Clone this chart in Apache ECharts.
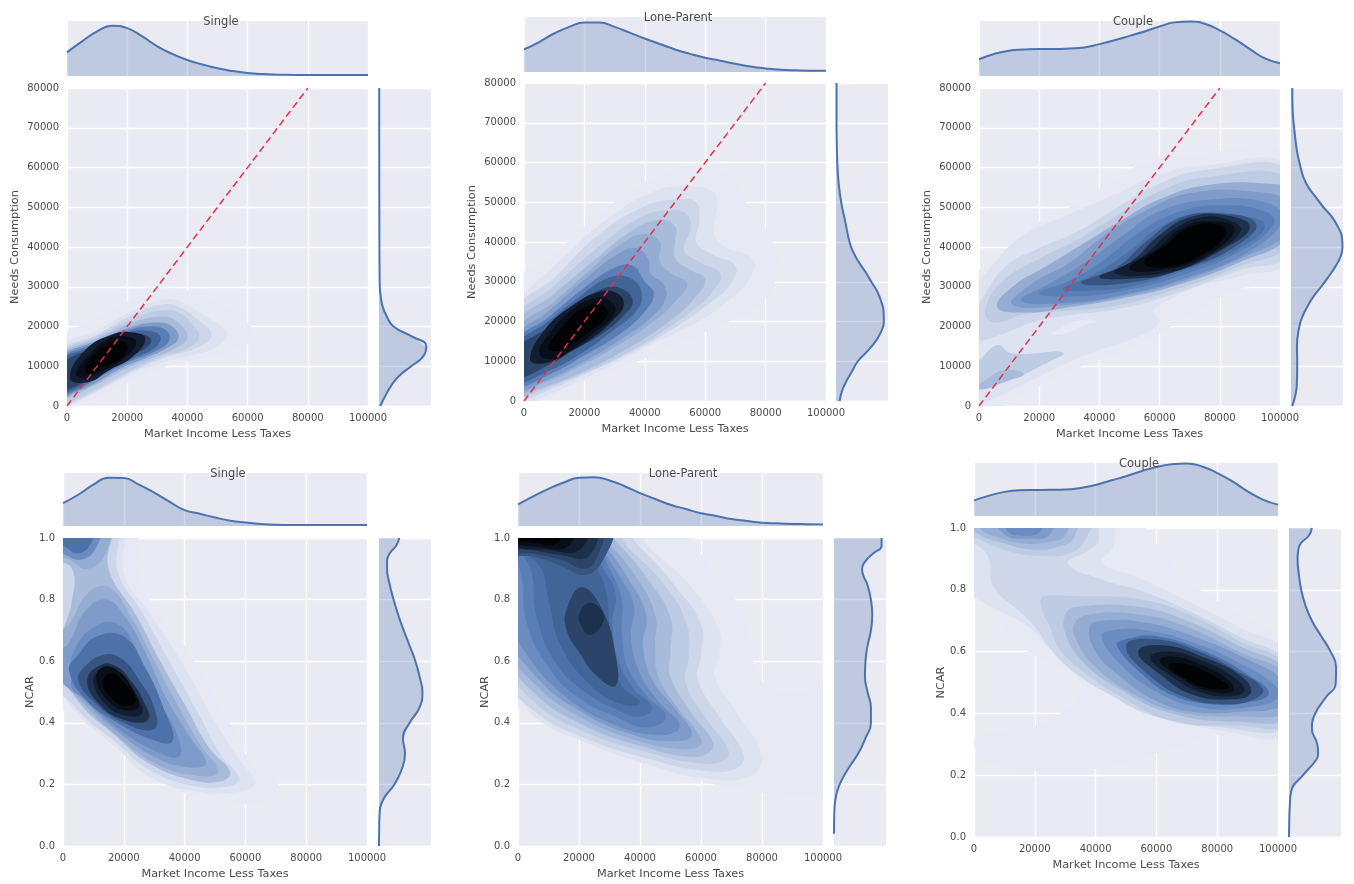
<!DOCTYPE html>
<html><head><meta charset="utf-8">
<style>html,body{margin:0;padding:0;background:#fff}#c{width:1354px;height:884px}</style>
<script src="https://cdn.jsdelivr.net/npm/echarts@6/dist/echarts.min.js"></script>
</head><body><div id="c"></div>
<script>
// ---- tick labels / axes
const incomeTicks = [0,20000,40000,60000,80000,100000];
const identityLine = [[0,0],[80000,80000]];
const titles = ['Single','Lone-Parent','Couple','Single','Lone-Parent','Couple'];
const xName = 'Market Income Less Taxes';
// ---- level colours, light to black
const palette = ['#e7eaf4','#dde3f0','#ced7ea','#bdcbe3','#a9bbdb','#95acd3','#7f9bc9','#6b8cc0','#5a7fb6','#4c72a9','#426597','#375580','#2b4467','#1e314c','#121e30','#090f19','#020305'];
// ---- top marginals: x every 5000, density as % of the strip height
const topX = [0,5000,10000,15000,20000,25000,30000,35000,40000,45000,50000,55000,60000,65000,70000,75000,80000,85000,90000,95000,100000];
const topA = [43,63,81,91.5,87,72,54,40,29,21,14,9,5.5,3.5,2.5,2,1.8,1.8,1.8,1.8,1.8];
const topB = [41,54.5,70,82,90,90,82,71.5,61,51,41,33,26,20.5,15,10,6.5,4,3,2.5,2.5];
const topC = [30.5,40,46,48,49,49,50,52,58,65,73,81,90,97.5,99,95,83,67,49,32,23];
const topD = [43,59,78,91,90.5,78,63,46,30,23,16,10,6.5,4,2.5,2,2,2,2,2,2];
const topE = [41,56,70,82,91,92,86,75,62,51,40,32,24,19,13,9.5,6.3,5,4,3.5,3];
const topF = [29.5,38.5,45.5,48.5,49,49.5,50,53,58.5,67,75,84.5,92.5,97.5,99,93.5,81,65.5,46.5,31,21.5];
// ---- right marginals: density % of strip width against y
const rightAY = [0,2500,5000,7500,10000,12500,15000,17500,20000,22500,25000,27500,30000,35000,40000,50000,60000,70000,80000];
const rightA  = [2.5,12,23,38,62,85,91,63,28,15,7,3.5,1.5,1,.8,.6,.5,.4,.4];
const rightBY = [0,2500,5000,7500,10000,12500,15000,17500,20000,22500,25000,27500,30000,32500,35000,37500,40000,45000,50000,55000,60000,65000,70000,80000];
const rightB  = [7,11.5,20,31,42,60,76,87,92,91.5,87,79.5,68,56.5,43.5,33,26,18,10,5,2.5,1.5,1,1];
const rightCY = [0,2500,5000,10000,15000,20000,22500,25000,27500,30000,32500,35000,37500,40000,42500,45000,47500,50000,52500,55000,57500,60000,62500,65000,70000,75000,80000];
const rightC  = [2.5,8,11,12,11.5,16,22,31.5,43,58,72,85,95,99,98,90.5,79,62.5,48,33.5,24,18.5,14,10.5,6,3,2.5];
const rightNY = [0,.05,.1,.15,.2,.25,.3,.35,.4,.45,.5,.55,.6,.65,.7,.75,.8,.85,.9,.925,.95,.975,1];
const rightD  = [0,.3,1,8,29.5,44,50,46,59,78,83.5,78,70,59,47.5,37,28,20.5,15.5,15.5,20.5,33,39];
const rightEY = [.04,.1,.15,.2,.25,.3,.35,.4,.45,.5,.55,.6,.65,.7,.75,.8,.85,.875,.9,.925,.95,.975,1];
const rightE  = [0,.5,2.5,11,27,46.5,60.5,71,71,64.5,59.5,60.5,64.5,71,73.5,71,64,57,54,60.5,75.5,91.5,91.5];
const rightFY = [0,.05,.1,.15,.2,.25,.27,.3,.35,.4,.45,.5,.55,.6,.65,.7,.75,.8,.85,.9,.925,.95,.975,1];
const rightF  = [0,.5,1.5,4.5,27,52.5,56,54.5,44,50.5,70,90,90.5,80,62,44,31.5,23.5,19,16.5,17.5,22.5,38,44];
// ---- filled contours, outer to inner: [x(thousands), y, x, y ...]
const contoursA = [
[-3,2,-3,16,10,22,25,28,35,29.5,48,27,58,22,62,18,56,14,45,12,33,10,15,4,5,1],
[-3,14,10,19,22,24,30,26.5,37,26.5,45,23,53,18.5,50,15,40,12.5,30,10.5,20,7.5,10,3.5,2,.5,-3,-1],
[-3,13,10,18,22,23,31,25.5,37,25,43,22,48,18,44,15,34,12.5,24,9.5,14,5.5,5,2,-3,0],
[-3,12.5,10,17.5,22,22,31,24,37,23.5,41,21,44,17.5,40,14.5,32,12.5,24,10,14,6,5,2.5,-3,.5],
[-3,12,10,17,22,21,31,22.5,36,21.5,40,17.5,36,14.5,28,12,20,9.5,10,5.5,3,3,-3,1.5],
[-3,11.5,10,16.5,22,20,30,21,35,20,37,17,33,14.5,26,12,18,9.5,10,6,3,3.5,-3,2],
[-3,11,10,16,20,19,28,20,33,19,34,16.5,30,14,22,11.5,15,9,8,6,2,3.5,-3,2.5],
[-3,10.5,8,15,18,18,26,19,31,17.5,29,14.5,22,12,15,9.5,8,6.5,2,4,-3,3],
[-3,9.5,8,14.5,18,17.5,25,18,28,16.5,25,14,18,11.5,10,8,3,5,-3,4],
[1,7,6,14,15,18,22,18.5,26,17,22,12.5,14,9,7,6],
[3,8,7,12.5,14,17,20,17.5,23,16,19,12,11,8.5,6,7],
[6,9,9,13,15,16,20,15.5,18,12,11,9.5,8,8],
[8,10,12,14,18,15,18.5,13.5,13,10.5]];
const levelsA = [0,1,2,3,4,6,8,10,12,14,15,16,16];
const contoursB = [
[-3,3,-3,29,10,37,25,47,40,55,55,59,68,57,75,48,81,42,84,33,78,24,65,19,50,14,38,10,20,5,5,0,-3,-2],
[-3,25,0,27,10,34,27,45.5,43,52.7,54,54,62,53,64,50,63,42,66,39,76,35.5,74,30,68,25.5,60,21,43,14.5,21,6,0,-1,-3,-2],
[-3,22,10,31,25,42,40,49,50,50.7,57,50,58,45,57,40,62,37,70,34,68,29,63,25.5,50,18.5,35,12,18,6,0,0,-3,-1],
[-3,20,10,29,25,39,38,46,47,48,54,47,55,43,53,38,58,35,65,32,62,27,57,23.5,45,17,30,10.5,15,5.5,0,1,-3,0],
[-3,18.5,10,27,25,36.5,35,42.5,44,45.5,50,44,50,40,50,36,55,33,60,30.5,56,25.5,48,20,35,13.5,20,7.5,5,3,-3,1],
[-3,17,10,25,22,33,32,39.5,40,42,45,40,45,35,49,32,54,29.5,50,25,42,19.5,30,13.5,18,8.5,5,4,-3,2],
[-3,15.5,8,22.5,20,30.5,30,36.5,37,38.5,41,36,42,32,46,29.5,47,26,42,21,32,15.5,20,10,8,5.5,-3,3],
[-3,14.5,8,21,20,28.5,30,33.5,36,34,40,30,43,27,40,22.5,32,17,20,11.5,8,6.5,-3,4],
[-3,13.5,8,20,18,26,28,31,35,31,39,27,37,22.5,30,18,20,12.5,8,7.5,-3,5],
[-3,12.5,8,18.5,18,24.5,27,28.5,33,28,36,25,33,21.5,26,17,17,13,8,9,-3,6],
[2,10.5,7,18,16,24,25,27.5,31,27,33,24,29,20,22,15.5,14,12,7,9.5],
[5,12,9,17.5,16,23,24,26,29,25,30,22,23,17,15,12.5,10,10.5],
[8,13.5,13,19,20,23.5,26,24,27.5,21.5,21,17,14,13.5,10,12.5],
[10,15,15,19.5,22,22.5,25.5,21.5,20,17,14,14.5]];
const levelsB = [0,1,2,3,4,5,6,8,10,12,14,15,16,16];
const contoursC = [
[-3,-2,-3,32,5,36,15,44,30,50,45,57,55,61,70,63,103,63,103,33,85,29,66,21,50,14,36,10.5,20,5,5,-1],
[-3,30,0,31.7,14,42.6,31,48.5,46,53.5,58,57.7,75,60.5,103,60,103,37,86,32.5,73,30,64,27,58,24,60,21,53,17.5,36,13,20,7.4,0,0,-3,-1],
[24,18,30,18.5,34,20,39,21.3,33,21.5,27,19.5],
[-3,11,0,11.6,6,15.3,11,13.2,28,13.4,20,9.9,15,8,7.5,5.7,0,4.4,-3,4],
[-3,4.5,0,5.5,8,9,15,8,8,6,2,4.3],
[-3,16,1,16.4,8.6,18.3,20,21.6,31,22.9,47,24.5,64,28,86,34,103,38.5,103,59,75,59.4,60,56,46,50,33,44,20,39.7,8.6,35,0,25.8,-3,23],
[2,24,8,31.5,20,37,33,42,46,48,60,54,75,57.5,103,57,103,41,86,35,64,29,47,25.5,31,24,15,23,5,21],
[6,25,12,30.5,22,35,35,41,48,47,60,52,75,55.5,95,56,103,54,103,43,86,36,64,30,47,27,31,25,15,23.5],
[11,25.5,18,31,30,36,42,43,55,49,70,53.5,90,54,103,51,103,44,88,37.5,66,31,47,27.5,30,25.5],
[14,26.5,24,31,36,36.5,48,43,60,49,78,52,96,51,101,47,90,39,68,32,48,28,30,26],
[20,28.5,30,31.5,42,37,52,43,65,48.5,80,50.5,95,49,98,46,88,39.5,68,33,48,29,30,27.5],
[28,29.5,38,33,50,39,60,45,72,48.5,86,48,95,45.5,86,39.5,68,34,50,30,36,29],
[34,31,46,35,55,41,66,47,78,48.5,92,46,85,40,68,34.5,50,31],
[40,32.5,50,36,60,43,70,47.5,82,48,90,45,80,39,64,33.5,50,32],
[45,33.5,55,38,64,44,74,47.5,84,46.5,87,44,78,38.5,62,33.5],
[50,34.5,60,40,68,45,78,46.5,85,44.5,77,38.5,63,34.5],
[55,36,63,41,70,45,80,45.5,82,43,74,38,63,35],
[60,37.5,66,42,72,44.5,79,43.5,76,39,66,36.5]];
const levelsC = [0,1,0,3,4,2,3,5,6,7,8,9,11,13,14,15,16,16];
const contoursD = [
[-3,105,22,105,26,85,42,62,56,38,62,27,72,18,65,14,50,15,38,18,22,28,10,38,0,44,-3,46],
[-3,52,0,48.5,6.7,41,17.6,32,28.5,22.5,45,17.5,60,18,63,21,58,28,49,42,39.5,59,28.5,75.5,20,88.5,19,105,-3,105],
[-3,56,5,44,17,34,28,25,43,19.5,55,19.5,58,22,52,29.5,44,44,35,60,26,76,18,89,17,105,-3,105],
[-3,62,5,47,17,36,28,27,42,21.5,52,21,55,24,48,32,40,46,32,60,24,75,15,90,15,105,-3,105,-3,94,3,90,3,80,0,70],
[-3,58,6,47,17,36.5,30,27,43,23,51,24,45,33,37,47,29,62,22,75,15,84,8,82,2,72,-3,68],
[-3,105,15,105,14,95,8,90,2,93,-3,95],
[-3,56,6,48,17,38,30,29,42,25.5,47,27,42,35,34,48,27,63,20,75,14,80,7,76,2,66,-3,62],
[-3,105,12,105,11,97,6,93,0,95,-3,97],
[3,51,6,48.5,17,39,30,31,38,29,38,35,30,50,24,64,18,72,10,71,3,62,3,56],
[0,105,10,105,9,98,5,95,1,97,-3,100],
[2,57,8,47,18,40,28,35,36,34,33,45,27,58,20,68,11,68,5,62],
[5,54,10,47,20,40,30,38,30,45,25,54,19,61,13,62,7,58],
[8,54,12,46,20,41,28,41,26,48,22,54,18,58,13,59],
[10,53,14,46,20,42.5,26,43,24,49,20,54,16,57,12,57],
[11,54,15,47,21,44,25,45.5,23,51,18,57,13,58],
[13,53,17,47,21,45.5,24,47,21,52,16,56]];
const levelsD = [0,1,2,4,5,5,6,7,7,9,9,11,13,14,15,16];
const contoursE = [
[-3,50,10,40,25,33,40,27,60,21,85,17,103,20,103,50,85,50,78,58,74,75,62,92,50,105,-3,105],
[-3,51,0,48.5,6.5,41,23,33.3,45,25.7,61,22,75.5,22.5,80,29,72,43,64.5,55,66,61.5,65.6,71,56,85,45,95,34,105,-3,105],
[-3,55,5,44,22,35,44,28,60,24.5,71,25,74,29.5,66,42,59,54,60,62,60,72,51,85,41,96,30,105,-3,105],
[-3,60,5,47,22,37,44,30,58,27,67,27.5,69,31,62,41,55,53,56,62,55,73,47,86,37,96,28,105,-3,105],
[-3,63,5,50,22,39,42,32,56,29,62,30,64,33.5,57,43,50,55,50,63,50,74,43,86,33,98,25,105,-3,105],
[-3,66,5,53,22,41,40,34,53,31.5,60,33,58,38,53,44,46,55,45,65,45,75,39,87,30,98,22,105,-3,105],
[-3,70,5,56,20,44,38,36,50,34,57,36,52,44,44,54,41,65,42,75,36,87,28,98,20,105,-3,105],
[-3,75,3,62,15,49,30,40,46,36,53,39,46,47,40,56,37,68,38,78,33,88,26,98,18,105,-3,105],
[-3,100,1,88,3,72,10,58,20,48,32,42,42,38.5,48.5,42,42,49,36,58,34,70,34,80,30,90,24,100,20,105,-3,105],
[-3,100,4,90,6,75,12,60,22,50,33,44,40,42,44,45,38,51,33,60,31,72,32,82,28,90,22,100,18,105,-3,105],
[-3,98,7,91,10,80,14,65,24,52,34,46,40,46.5,34,52,31,60,30,70,29,82,26,90,20,100,-3,105],
[-3,103,30,103,28,93,22,88,14,91,5,94,-3,95],
[16,77,21,84,28,76,32,62,32,52,26,55,20,63,16,70],
[20,75,23.5,79,28,75.5,27,71,23.5,68.5,21,71],
[-3,103,27,103,26,94,22,90,14,93,5,95,-3,96],
[-3,103,25,103,23,94,14,94.5,5,96,-3,97.5],
[-3,103,22,103,20,96,10,96,-3,98],
[-3,103,18,103,16,97,8,97,-3,99],
[-3,103,14,103,12,98,5,98.5,-3,100]];
const levelsE = [0,1,2,3,4,5,6,7,8,9,10,11,12,13,12,13,14,15,16];
const contoursF = [
[-3,105,50,105,60,95,70,83,100,65,103,60,103,33,80,33,70,30,60,27,40,22,25,21,5,24,0,30,3,33,25,38,35,50,15,62,5,75,-3,80],
[-3,80,0,77.7,8,73.3,18,68,24.4,61.5,32,56,43,48.5,59.5,40,81,34.5,103,34,103,59,87,68,70,76.5,54,84,42,89,46,94.5,44,105,-3,105],
[-3,96,0,95,4.7,90.6,6.4,81,14.6,73.3,20,68,25.5,60.4,32,54,43,47,59.5,39,81,35.5,103,36,103,56,87,65,70,73.5,54,80,43,83,31,88.5,38,93,41,96,38,105,-3,105],
[-3,105,39,105,37,97,32,92,21,91,10,93,0,97,-3,98],
[-3,105,33,105,33,97,28,94,20,93,10,95,0,99],
[2,105,30,105,30,97.5,24,95.5,16,95,8,97,2,100],
[6,105,26,105,25,98,18,96.5,10,98],
[10,105,21,105,22,99,16,97.5,11,99],
[22,77,23,72,25,68,27.7,61.5,34,55,48.5,45.3,65,37.7,87,36,103,37,103,55,87,63.6,70,72.3,54,77,32,78,25,78.2],
[30,72,30.5,64.7,36.5,56,48.5,47.5,65,40,87,37.3,103,39,103,53.4,87,62,70,70,54,74.5,34,74.5],
[33,69,34,63,40,55,52,46.5,67,40.5,87,39,103,41,103,52,87,60,70,68,54,72,38,72],
[38,68,40,60,48,52,60,44,72,40.5,87,40.5,102,43,102,50,90,57.5,72,65,56,69.5,42,70],
[42,65,48,56,60,47,74,42,90,42,100,45,99,49,88,56,72,63,56,67,46,67],
[47,62,55,53,65,46,78,43,90,43.5,97,46.5,90,52.5,76,60,60,65,50,64],
[50,62,58,52,70,45,82,43,92,44.5,95,48,86,54,74,60,60,64],
[54,60,62,52,72,46,84,44.5,91,46.5,88,52,76,58,63,62],
[58,58,65,52,74,47,84,45.5,89,47.5,85,52,74,57.5,64,60],
[61,57,68,51.5,76,47.5,85,47,84,50.5,74,56,65,58.5],
[64,55.5,70,51,78,48,84,48.5,78,52.5,70,56]];
const levelsF = [0,1,2,3,4,5,6,7,3,4,5,6,7,9,11,13,14,15,16];

// ---- panel pixel boxes [mainL, mainR, mainT, mainB, topT, topB, rightL, rightR]
const panels = [
 {box:[67,368,88,406,21,76,379,431],   c:contoursA,l:levelsA,top:topA,ry:rightAY,r:rightA,needs:true, tx:216,ty:11, nameGap:46},
 {box:[524,826,83,401,17,72,836,888],  c:contoursB,l:levelsB,top:topB,ry:rightBY,r:rightB,needs:true, tx:673,ty:7, nameGap:46},
 {box:[979,1280,88,406,21,76,1291,1343],c:contoursC,l:levelsC,top:topC,ry:rightCY,r:rightC,needs:true, tx:1128,ty:11, nameGap:46},
 {box:[63,367,538,846,473,526,379,431],c:contoursD,l:levelsD,top:topD,ry:rightNY,r:rightD,needs:false,tx:223,ty:463, nameGap:27},
 {box:[518,823,538,846,473,526,834,886],c:contoursE,l:levelsE,top:topE,ry:rightEY,r:rightE,needs:false,tx:678,ty:463, nameGap:27},
 {box:[974,1278,528,837,463,516,1289,1341],c:contoursF,l:levelsF,top:topF,ry:rightFY,r:rightF,needs:false,tx:1134,ty:453, nameGap:27}
];
const FONT='"DejaVu Sans"', TXT='#4a4a4a', BG='#eaeaf2', LINE='#4c72b0', GRIDC='#ffffff';
const grid=[],xAxis=[],yAxis=[],series=[],title=[];
const split={show:true,lineStyle:{color:GRIDC,width:1.3}};
const hide={show:false};
panels.forEach((p,i)=>{
  const [L,R,T,B,tT,tB,rL,rR]=p.box, g=grid.length;
  const yMax=p.needs?80000:1, yInt=p.needs?10000:0.2, yUnit=p.needs?1000:0.01;
  grid.push({left:L,width:R-L,top:T,height:B-T,show:true,backgroundColor:BG,borderWidth:0});
  grid.push({left:L,width:R-L,top:tT,height:tB-tT,show:true,backgroundColor:BG,borderWidth:0});
  grid.push({left:rL,width:rR-rL,top:T,height:B-T,show:true,backgroundColor:BG,borderWidth:0});
  // main
  xAxis.push({gridIndex:g,type:'value',min:0,max:100000,interval:20000,name:xName,nameLocation:'middle',nameGap:23,
    nameTextStyle:{fontFamily:FONT,fontSize:11.3,color:TXT},axisLine:hide,axisTick:hide,splitLine:split,
    axisLabel:{fontFamily:FONT,fontSize:10,color:TXT,margin:7,showMinLabel:true,showMaxLabel:true,hideOverlap:false,formatter:v=>String(v)}});
  yAxis.push({gridIndex:g,type:'value',min:0,max:yMax,interval:yInt,name:p.needs?'Needs Consumption':'NCAR',nameLocation:'middle',nameGap:p.nameGap,
    nameTextStyle:{fontFamily:FONT,fontSize:11.3,color:TXT},axisLine:hide,axisTick:hide,splitLine:split,
    axisLabel:{fontFamily:FONT,fontSize:10,color:TXT,margin:8,showMinLabel:true,showMaxLabel:true,hideOverlap:false,formatter:v=>p.needs?String(v):v.toFixed(1)}});
  // top
  xAxis.push({gridIndex:g+1,type:'value',min:0,max:100000,interval:20000,axisLine:hide,axisTick:hide,axisLabel:hide,splitLine:split});
  yAxis.push({gridIndex:g+1,type:'value',min:0,max:100,axisLine:hide,axisTick:hide,axisLabel:hide,splitLine:hide});
  // right
  xAxis.push({gridIndex:g+2,type:'value',min:0,max:100,axisLine:hide,axisTick:hide,axisLabel:hide,splitLine:hide});
  yAxis.push({gridIndex:g+2,type:'value',min:0,max:yMax,interval:yInt,axisLine:hide,axisTick:hide,axisLabel:hide,splitLine:split});

  series.push({type:'custom',xAxisIndex:g,yAxisIndex:g,clip:true,silent:true,animation:false,z:2,
    data:p.c.map((_,k)=>[k]),encode:{x:0,y:0},
    renderItem:(params,api)=>{
      const flat=p.c[params.dataIndex],pts=[];
      for(let k=0;k<flat.length;k+=2) pts.push(api.coord([flat[k]*1000,flat[k+1]*yUnit]));
      const cs=params.coordSys;
      return {type:'polygon',shape:{points:pts,smooth:0.45,smoothConstraint:false},
        style:{fill:palette[p.l[params.dataIndex]],stroke:null},
        clipPath:{type:'rect',shape:{x:cs.x,y:cs.y,width:cs.width,height:cs.height}}};
    }});
  if(p.needs) series.push({type:'line',xAxisIndex:g,yAxisIndex:g,data:identityLine,showSymbol:false,silent:true,animation:false,z:5,
    lineStyle:{color:'#e5304a',width:1.5,type:[7,4]}});
  series.push({type:'line',xAxisIndex:g+1,yAxisIndex:g+1,data:topX.map((x,k)=>[x,p.top[k]]),showSymbol:false,smooth:true,silent:true,animation:false,z:4,
    lineStyle:{color:LINE,width:2},areaStyle:{color:LINE,opacity:0.27}});
  const rp=p.ry.map((y,k)=>[p.r[k],y]);
  series.push({type:'custom',xAxisIndex:g+2,yAxisIndex:g+2,clip:true,silent:true,animation:false,z:3,
    data:[[0,p.ry[0]]],encode:{x:0,y:1},
    renderItem:(params,api)=>{
      const pts=rp.map(d=>api.coord(d));
      pts.unshift(api.coord([0,p.ry[0]]));pts.push(api.coord([0,p.ry[p.ry.length-1]]));
      return {type:'polygon',shape:{points:pts},style:{fill:LINE,opacity:0.27,stroke:null}};
    }});
  series.push({type:'line',xAxisIndex:g+2,yAxisIndex:g+2,data:rp,showSymbol:false,smooth:true,silent:true,animation:false,z:4,
    lineStyle:{color:LINE,width:2}});
  title.push({text:titles[i],left:p.tx,top:p.ty,textAlign:'center',textStyle:{fontFamily:FONT,fontSize:11.5,fontWeight:'normal',color:TXT}});
});
const chart=echarts.init(document.getElementById('c'),null,{renderer:'canvas'});
chart.setOption({backgroundColor:'#ffffff',animation:false,title,grid,xAxis,yAxis,series});
</script></body></html>
